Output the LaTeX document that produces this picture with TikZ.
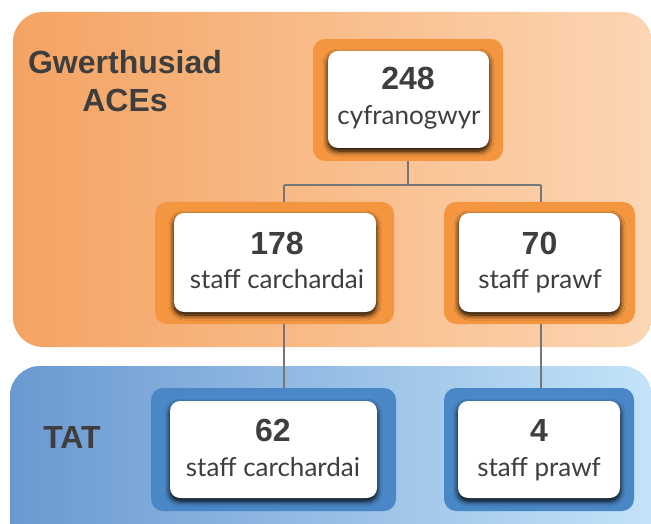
\documentclass[tikz,border=0pt]{standalone}
\usepackage{fontspec}
\usetikzlibrary{shadows.blur}
\newfontfamily\headfont{Liberation Sans}
\newfontfamily\labfont{Lato}
\definecolor{txt}{HTML}{3E3E3E}
\definecolor{panOL}{HTML}{F4A362}
\definecolor{panOR}{HTML}{FCD6B4}
\definecolor{panBL}{HTML}{6A99D1}
\definecolor{panBR}{HTML}{C3E3F9}
\definecolor{boxO}{HTML}{F3963F}
\definecolor{boxB}{HTML}{4A87C7}
\definecolor{conn}{HTML}{767676}
\begin{document}
\begin{tikzpicture}[x=1pt,y=-1pt,
  outerbox/.style={rectangle, rounded corners=12pt, inner sep=0pt, minimum height=122pt},
  whitebox/.style={rectangle, rounded corners=10pt, fill=white, inner sep=0pt,
     blur shadow={shadow xshift=0pt, shadow yshift=-3pt, shadow blur radius=5pt, shadow opacity=100, shadow blur steps=8}},
  numtxt/.style={anchor=base, font=\headfont\bfseries\fontsize{32}{36}\selectfont, text=txt, inner sep=0pt},
  labtxt/.style={anchor=base, font=\labfont\fontsize{26}{30}\selectfont, text=txt, inner sep=0pt},
  headtxt/.style={anchor=base, font=\headfont\bfseries\fontsize{32}{36}\selectfont, text=txt, inner sep=0pt},
  connline/.style={draw=conn, line width=2pt}]
\useasboundingbox (0,0) rectangle (651,524);
\clip (0,0) rectangle (651,524);
% panels
\shade[left color=panOL, right color=panOR, rounded corners=30pt] (13,12) rectangle (652,347);
\shade[left color=panBL, right color=panBR, rounded corners=30pt] (10,366) rectangle (652,560);
% headings
\node[headtxt] (h1) at (125,74) {Gwerthusiad};
\node[headtxt] (h2) at (125,112) {ACEs};
\node[headtxt] (h3) at (72,448) {TAT};
% outer boxes
\node[outerbox, fill=boxO, minimum width=190pt] (o248) at (408,100) {};
\node[outerbox, fill=boxO, minimum width=239pt] (o178) at (274.5,263) {};
\node[outerbox, fill=boxO, minimum width=191pt] (o70) at (539.5,263) {};
\node[outerbox, fill=boxB, minimum width=245pt, minimum height=123pt] (o62) at (273.5,449.5) {};
\node[outerbox, fill=boxB, minimum width=190pt, minimum height=123pt] (o4) at (539,449.5) {};
% white boxes
\node[whitebox, minimum width=161pt, minimum height=97pt] (w248) at (408.5,99.5) {};
\node[whitebox, minimum width=202pt, minimum height=99pt] (w178) at (275,262.5) {};
\node[whitebox, minimum width=161pt, minimum height=99pt] (w70) at (539.5,262.5) {};
\node[whitebox, minimum width=207pt, minimum height=97pt] (w62) at (273.5,449.5) {};
\node[whitebox, minimum width=162pt, minimum height=97pt] (w4) at (539,449.5) {};
% texts
\node[numtxt] (n248) at (408,90) {248};
\node[labtxt] (l248) at (409,125) {cyfranogwyr};
\node[numtxt] (n178) at (277,254) {178};
\node[labtxt] (l178) at (277,288) {staff carchardai};
\node[numtxt] (n70) at (539.5,254) {70};
\node[labtxt] (l70) at (540,288) {staff prawf};
\node[numtxt] (n62) at (273,441) {62};
\node[labtxt] (l62) at (273,476) {staff carchardai};
\node[numtxt] (n4) at (539,441) {4};
\node[labtxt] (l4) at (539,476) {staff prawf};
% connectors
\coordinate (j) at (408,185);
\coordinate (jl) at (284,185);
\coordinate (jr) at (541,185);
\draw[connline] (o248.south) -- (j);
\draw[connline] (jl) -- (jr);
\draw[connline] (jl) -- (jl |- o178.north);
\draw[connline] (jr) -- (jr |- o70.north);
\draw[connline] (o178.south -| jl) -- (o62.north -| jl);
\draw[connline] (o70.south -| jr) -- (o4.north -| jr);
\end{tikzpicture}
\end{document}
